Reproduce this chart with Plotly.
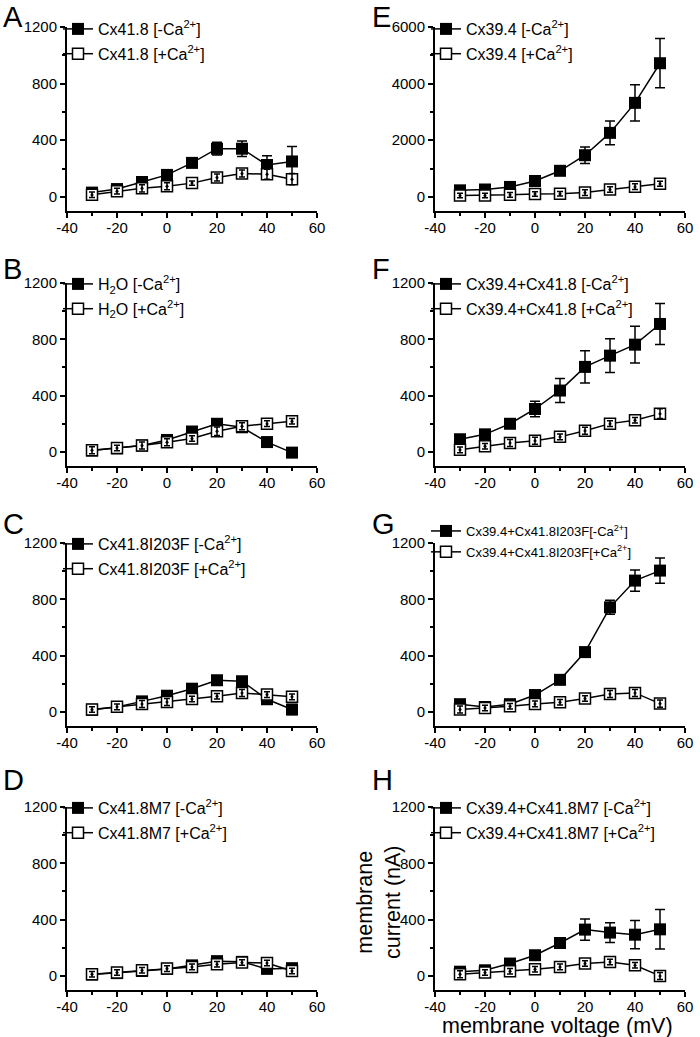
import plotly.graph_objects as go

W, H = 700, 1037
FONT = "Liberation Sans, Arial, sans-serif"

voltage = [-30, -20, -10, 0, 10, 20, 30, 40, 50]

a_minus = [30, 55, 105, 155, 240, 340, 340, 225, 250]
a_minus_err = [15, 15, 15, 20, 25, 45, 55, 65, 105]
a_plus = [15, 40, 60, 75, 97, 137, 165, 160, 125]
a_plus_err = [20, 20, 25, 25, 15, 25, 25, 35, 40]

b_minus = [10, 25, 45, 85, 145, 200, 175, 70, -5]
b_minus_err = [15, 15, 15, 15, 20, 20, 20, 15, 25]
b_plus = [12, 28, 45, 69, 95, 147, 182, 201, 218]
b_plus_err = [25, 20, 25, 25, 20, 30, 25, 20, 20]

c_minus = [15, 35, 75, 115, 165, 225, 218, 90, 17]
c_minus_err = [15, 15, 15, 15, 20, 25, 20, 15, 35]
c_plus = [17, 36, 57, 71, 92, 111, 135, 123, 107]
c_plus_err = [20, 20, 25, 25, 20, 20, 25, 20, 20]

d_minus = [10, 20, 35, 50, 75, 105, 100, 50, 55]
d_minus_err = [10, 10, 10, 10, 15, 15, 15, 15, 15]
d_plus = [12, 24, 40, 52, 64, 83, 95, 92, 35]
d_plus_err = [20, 20, 20, 20, 20, 20, 20, 20, 20]

e_minus = [230, 260, 350, 560, 920, 1470, 2260, 3320, 4720]
e_minus_err = [60, 60, 60, 80, 100, 290, 420, 640, 870]
e_plus = [50, 50, 70, 100, 110, 150, 260, 360, 460]
e_plus_err = [80, 80, 80, 80, 80, 100, 100, 100, 90]

f_minus = [90, 125, 200, 305, 436, 604, 684, 762, 909]
f_minus_err = [15, 15, 20, 55, 85, 115, 120, 130, 145]
f_plus = [15, 40, 64, 80, 107, 151, 201, 225, 272]
f_plus_err = [20, 20, 25, 25, 20, 25, 20, 20, 35]

g_minus = [55, 35, 55, 120, 228, 425, 743, 933, 1004]
g_minus_err = [15, 15, 15, 15, 15, 15, 50, 75, 90]
g_plus = [17, 28, 40, 57, 69, 95, 128, 135, 59]
g_plus_err = [25, 20, 20, 20, 20, 20, 25, 25, 25]

h_minus = [30, 40, 88, 147, 234, 329, 308, 293, 331]
h_minus_err = [15, 15, 15, 15, 30, 75, 70, 100, 140]
h_plus = [12, 24, 33, 47, 64, 88, 99, 76, 0]
h_plus_err = [25, 20, 20, 20, 20, 20, 20, 20, 25]

x_ticks = [-40, -20, 0, 20, 40, 60]
x_ticktext = ["-40", "-20", "0", "20", "40", "60"]
y_ticks = [0, 400, 800, 1200]
y_ticks_e = [0, 2000, 4000, 6000]

panels = [
    # letter, name, minus, minus_err, plus, plus_err, col, row, ymax, yticks, legend font
    ("A", "Cx41.8 ", a_minus, a_minus_err, a_plus, a_plus_err, 0, 0, 1200, y_ticks, 16),
    ("B", "H<sub>2</sub>O ", b_minus, b_minus_err, b_plus, b_plus_err, 0, 1, 1200, y_ticks, 16),
    ("C", "Cx41.8I203F ", c_minus, c_minus_err, c_plus, c_plus_err, 0, 2, 1200, y_ticks, 16),
    ("D", "Cx41.8M7 ", d_minus, d_minus_err, d_plus, d_plus_err, 0, 3, 1200, y_ticks, 16),
    ("E", "Cx39.4 ", e_minus, e_minus_err, e_plus, e_plus_err, 1, 0, 6000, y_ticks_e, 16),
    ("F", "Cx39.4+Cx41.8 ", f_minus, f_minus_err, f_plus, f_plus_err, 1, 1, 1200, y_ticks, 16),
    ("G", "Cx39.4+Cx41.8I203F", g_minus, g_minus_err, g_plus, g_plus_err, 1, 2, 1200, y_ticks, 13),
    ("H", "Cx39.4+Cx41.8M7 ", h_minus, h_minus_err, h_plus, h_plus_err, 1, 3, 1200, y_ticks, 16),
]

# pixel geometry (page pixels)
col_x = [(67, 317), (435, 685)]
row_y = [(27, 211), (283, 466), (543, 726), (807, 990)]
legend_top = {0: 12, 1: 267, 2: 527, 3: 791}
legend_top_g = 516
letter_mid = {0: 17, 1: 269, 2: 524, 3: 780}
letter_x = [1, 370]


def px(v):
    return v / W


def py(v):
    return 1 - v / H


fig = go.Figure()
layout = dict(
    width=W, height=H, margin=dict(l=0, r=0, t=0, b=0, autoexpand=False),
    paper_bgcolor="white", plot_bgcolor="white",
    font=dict(family=FONT, size=15, color="black"),
    annotations=[],
)

for i, (letter, name, ym, yme, yp, ype, col, row, ymax, yt, lfs) in enumerate(panels):
    k = i + 1
    xa = "x" if k == 1 else f"x{k}"
    ya = "y" if k == 1 else f"y{k}"
    lg = "legend" if k == 1 else f"legend{k}"
    x0, x1 = col_x[col]
    yt0, yb0 = row_y[row]
    ymin = -ymax / 12.0
    common_axis = dict(
        showline=True, linecolor="black", linewidth=2, showgrid=False, zeroline=False,
        ticks="outside", ticklen=5, tickwidth=2, tickcolor="black",
        tickfont=dict(family=FONT, size=15, color="black"),
    )
    layout["xaxis" if k == 1 else f"xaxis{k}"] = dict(
        domain=[px(x0), px(x1)], anchor=ya, range=[-40, 60],
        tickvals=x_ticks, ticktext=x_ticktext, ticklabelstandoff=-3,
        minor=dict(ticks="outside", ticklen=3, tickwidth=1.5, tickcolor="black", dtick=10, tick0=0),
        **common_axis,
    )
    layout["yaxis" if k == 1 else f"yaxis{k}"] = dict(
        domain=[py(yb0), py(yt0)], anchor=xa, range=[ymin, ymax],
        tickvals=yt,
        minor=dict(ticks="outside", ticklen=3, tickwidth=1.5, tickcolor="black",
                   dtick=yt[1] / 2, tick0=0),
        **common_axis,
    )
    ltop = legend_top_g if letter == "G" else legend_top[row]
    layout[lg] = dict(
        x=px(x0 - 9), y=py(ltop), xanchor="left", yanchor="top",
        bgcolor="rgba(0,0,0,0)", borderwidth=0,
        font=dict(family=FONT, size=lfs, color="black"),
        traceorder="grouped", tracegroupgap=1, itemwidth=30,
    )
    fig.add_trace(go.Scatter(
        x=voltage, y=ym, xaxis=xa, yaxis=ya, legend=lg, legendgroup=f"{letter}m",
        name=f"{name}[-Ca<sup>2+</sup>]", mode="lines+markers",
        line=dict(color="black", width=1.5),
        marker=dict(symbol="square", size=12, color="black"),
        error_y=dict(type="data", array=yme, color="black", thickness=1.5, width=5),
    ))
    fig.add_trace(go.Scatter(
        x=voltage, y=yp, xaxis=xa, yaxis=ya, legend=lg, legendgroup=f"{letter}p",
        name=f"{name}[+Ca<sup>2+</sup>]", mode="lines+markers",
        line=dict(color="black", width=1.5),
        marker=dict(symbol="square", size=11, color="white", line=dict(color="black", width=1.5)),
    ))
    fig.add_trace(go.Scatter(
        x=voltage, y=yp, xaxis=xa, yaxis=ya, legend=lg, showlegend=False,
        mode="markers", marker=dict(symbol="circle", size=3, color="black"),
        error_y=dict(type="data", array=ype, color="black", thickness=1.5, width=3),
        hoverinfo="skip",
    ))
    # panel letter
    layout["annotations"].append(dict(
        text=letter, xref="paper", yref="paper", x=px(letter_x[col]), y=py(letter_mid[row]),
        xanchor="left", yanchor="middle", showarrow=False,
        font=dict(family=FONT, size=29, color="black"),
    ))

layout["annotations"].append(dict(
    text="membrane voltage (mV)", xref="paper", yref="paper",
    x=px(557), y=py(1026), xanchor="center", yanchor="middle", showarrow=False,
    font=dict(family=FONT, size=21.5, color="black"),
))
layout["annotations"].append(dict(
    text="membrane<br>current (nA)", xref="paper", yref="paper",
    x=px(379), y=py(902), xanchor="center", yanchor="middle", showarrow=False,
    textangle=-90, font=dict(family=FONT, size=21.5, color="black"),
))

fig.update_layout(**layout)
fig.write_html(
    "out.html",
    config={"displayModeBar": False},
    post_script="document.body.style.margin='0';document.body.style.padding='0';",
)
